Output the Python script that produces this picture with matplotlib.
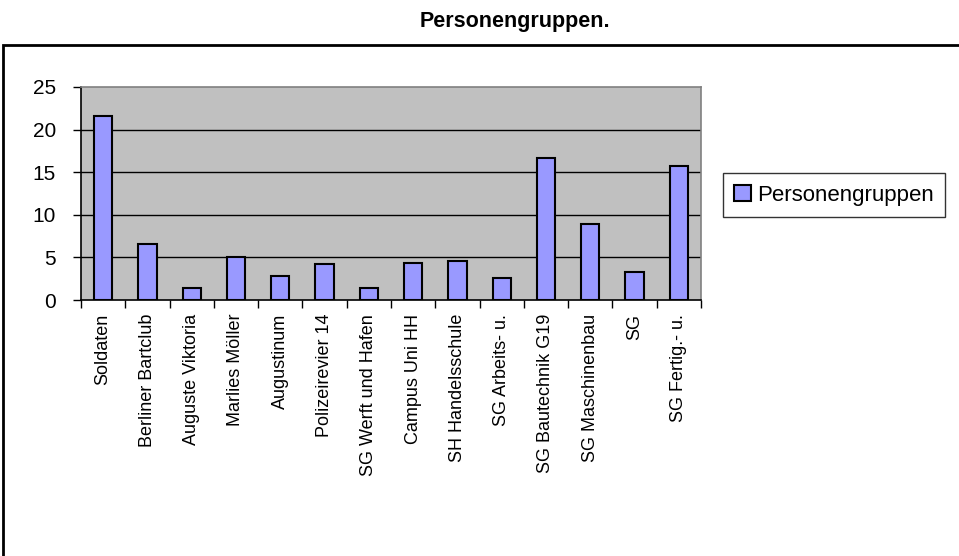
import matplotlib.pyplot as plt
from matplotlib.patches import Rectangle

plt.rcParams['font.family'] = ['Liberation Sans', 'DejaVu Sans']

# Daten
categories = ['Soldaten', 'Berliner Bartclub', 'Auguste Viktoria', 'Marlies Möller',
              'Augustinum', 'Polizeirevier 14', 'SG Werft und Hafen', 'Campus Uni HH',
              'SH Handelsschule', 'SG Arbeits- u.', 'SG Bautechnik G19',
              'SG Maschinenbau', 'SG', 'SG Fertig.- u.']
values = [21.6, 6.6, 1.4, 5.1, 2.8, 4.2, 1.4, 4.4, 4.6, 2.55, 16.65, 8.9, 3.3, 15.7]
yticks = [0, 5, 10, 15, 20, 25]

fig = plt.figure(figsize=(9.59, 5.56), dpi=100, facecolor='white')

# outer chart-area frame (runs off right and bottom edge)
fig.patches.append(Rectangle((3 / 959, -0.05), 1.2, 1 - 45 / 556 + 0.05,
                             transform=fig.transFigure, fill=False,
                             edgecolor='black', linewidth=2, clip_on=False))

ax = fig.add_axes([81 / 959, 1 - 300 / 556, 620 / 959, 213 / 556])
ax.set_facecolor('#C0C0C0')

x = list(range(len(categories)))
ax.bar(x, values, width=0.41, color='#9999FF', edgecolor='black', linewidth=1.5,
       label='Personengruppen', zorder=3)

ax.set_xlim(-0.5, len(categories) - 0.5)
ax.set_ylim(0, 25)
ax.set_yticks(yticks)
ax.set_yticklabels([str(v) for v in yticks], fontsize=15)
for v in yticks[1:-1]:
    ax.axhline(v, color='black', linewidth=1, zorder=1)

ax.set_xticks(x)
ax.set_xticklabels(categories, rotation=90, fontsize=13)
ax.set_xticks([i - 0.5 for i in range(len(categories) + 1)], minor=True)
ax.tick_params(axis='x', which='major', length=0, pad=10)
ax.tick_params(axis='x', which='minor', length=6, width=1, direction='out', color='black')
ax.tick_params(axis='y', length=6, width=1, direction='out', pad=12)

ax.spines['left'].set_color('black')
ax.spines['bottom'].set_color('black')
ax.spines['top'].set_color('#808080')
ax.spines['right'].set_color('#808080')
for s in ax.spines.values():
    s.set_linewidth(1.2)

fig.text(515 / 959, 1 - 21 / 556, 'Personengruppen.', ha='center', va='center',
         fontsize=15.5, fontweight='bold')

leg = ax.legend(loc='center left', bbox_to_anchor=(723 / 959, 1 - 195 / 556),
                bbox_transform=fig.transFigure, fontsize=16, frameon=True,
                fancybox=False, edgecolor='black', handlelength=0.75,
                handleheight=0.75, handletextpad=0.3, borderpad=0.5,
                borderaxespad=0)
leg.get_frame().set_linewidth(1)

fig.savefig('out.png', dpi=100, facecolor='white')
